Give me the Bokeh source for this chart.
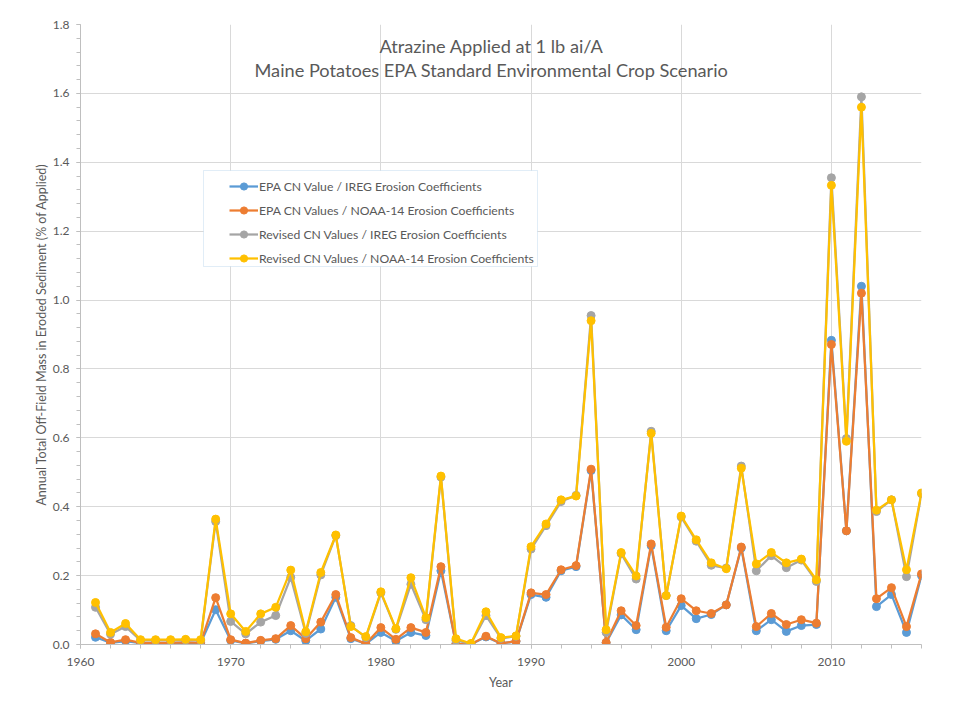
from bokeh.plotting import figure
from bokeh.models import (SingleIntervalTicker, PrintfTickFormatter, Label, Legend, LegendItem,
                          Range1d, BoxAnnotation)
from bokeh.embed import file_html
from bokeh.resources import INLINE

years = [1961, 1962, 1963, 1964, 1965, 1966, 1967, 1968, 1969, 1970,
         1971, 1972, 1973, 1974, 1975, 1976, 1977, 1978, 1979, 1980,
         1981, 1982, 1983, 1984, 1985, 1986, 1987, 1988, 1989, 1990,
         1991, 1992, 1993, 1994, 1995, 1996, 1997, 1998, 1999, 2000,
         2001, 2002, 2003, 2004, 2005, 2006, 2007, 2008, 2009, 2010,
         2011, 2012, 2013, 2014, 2015, 2016]

epa_ireg = [0.021, 0.005, 0.010, 0.004, 0.004, 0.004, 0.005, 0.004, 0.101, 0.012,
            0.003, 0.010, 0.015, 0.040, 0.011, 0.045, 0.137, 0.017, 0.002, 0.035,
            0.010, 0.035, 0.026, 0.214, 0.002, 0.001, 0.022, 0.003, 0.009, 0.145,
            0.137, 0.214, 0.226, 0.505, 0.005, 0.086, 0.043, 0.287, 0.040, 0.113,
            0.075, 0.087, 0.115, 0.280, 0.040, 0.072, 0.038, 0.055, 0.058, 0.883,
            0.330, 1.040, 0.110, 0.145, 0.035, 0.200]

epa_noaa = [0.031, 0.006, 0.014, 0.005, 0.005, 0.005, 0.006, 0.005, 0.136, 0.014,
            0.004, 0.012, 0.017, 0.055, 0.017, 0.065, 0.145, 0.020, 0.002, 0.049,
            0.015, 0.049, 0.035, 0.226, 0.002, 0.001, 0.024, 0.003, 0.010, 0.150,
            0.145, 0.217, 0.229, 0.509, 0.006, 0.098, 0.055, 0.292, 0.050, 0.133,
            0.098, 0.090, 0.115, 0.283, 0.052, 0.090, 0.058, 0.072, 0.062, 0.871,
            0.330, 1.020, 0.133, 0.165, 0.052, 0.205]

rev_ireg = [0.108, 0.030, 0.052, 0.012, 0.012, 0.012, 0.013, 0.012, 0.357, 0.067,
            0.031, 0.065, 0.084, 0.195, 0.032, 0.202, 0.316, 0.055, 0.020, 0.150,
            0.044, 0.175, 0.072, 0.486, 0.012, 0.002, 0.084, 0.018, 0.024, 0.277,
            0.345, 0.415, 0.433, 0.955, 0.035, 0.264, 0.190, 0.619, 0.142, 0.370,
            0.300, 0.230, 0.222, 0.518, 0.214, 0.258, 0.223, 0.245, 0.183, 1.355,
            0.598, 1.590, 0.386, 0.420, 0.197, 0.438]

rev_noaa = [0.122, 0.035, 0.061, 0.014, 0.014, 0.014, 0.015, 0.014, 0.364, 0.089,
            0.038, 0.089, 0.108, 0.216, 0.037, 0.209, 0.318, 0.052, 0.023, 0.153,
            0.046, 0.194, 0.078, 0.489, 0.017, 0.003, 0.095, 0.020, 0.025, 0.284,
            0.350, 0.420, 0.431, 0.940, 0.043, 0.267, 0.199, 0.613, 0.142, 0.373,
            0.304, 0.237, 0.220, 0.512, 0.234, 0.267, 0.237, 0.248, 0.188, 1.333,
            0.590, 1.560, 0.390, 0.420, 0.217, 0.440]

series_names = ["EPA CN Value / IREG Erosion Coefficients",
                "EPA CN Values / NOAA-14 Erosion Coefficients",
                "Revised CN Values / IREG Erosion Coefficients",
                "Revised CN Values / NOAA-14 Erosion Coefficients"]
series_colors = ["#5B9BD5", "#ED7D31", "#A5A5A5", "#FFC000"]
series_values = [epa_ireg, epa_noaa, rev_ireg, rev_noaa]

title_lines = ["Atrazine Applied at 1 lb ai/A",
               "Maine Potatoes EPA Standard Environmental Crop Scenario"]

FONT = "Lato"
TXT = "#595959"

p = figure(width=950, height=700, output_backend="svg", toolbar_location=None,
           x_range=Range1d(1960, 2016), y_range=Range1d(0, 1.8),
           min_border_left=80, min_border_right=29, min_border_top=24, min_border_bottom=56)
p.outline_line_color = None
p.background_fill_color = "white"
p.border_fill_color = "white"

# axes
p.xaxis.ticker = SingleIntervalTicker(interval=10, num_minor_ticks=5)
p.yaxis.ticker = SingleIntervalTicker(interval=0.2, num_minor_ticks=5)
p.yaxis.formatter = PrintfTickFormatter(format="%.1f")
for ax in (p.xaxis, p.yaxis):
    ax.axis_line_color = "#BFBFBF"
    ax.major_tick_line_color = "#BFBFBF"
    ax.minor_tick_line_color = "#BFBFBF"
    ax.major_tick_out = 4
    ax.major_tick_in = 0
    ax.minor_tick_out = 4
    ax.minor_tick_in = 0
    ax.major_label_text_font = FONT
    ax.major_label_text_font_size = "12px"
    ax.major_label_text_color = TXT
    ax.axis_label_text_font = FONT
    ax.axis_label_text_font_size = "12.5px"
    ax.axis_label_text_color = TXT
    ax.axis_label_text_font_style = "normal"
p.xaxis.axis_label = "Year"
p.yaxis.axis_label = "Annual Total Off-Field Mass in Eroded Sediment (% of Applied)"
p.xaxis.major_label_standoff = 9
p.yaxis.major_label_standoff = 7
p.xaxis.axis_label_standoff = 6
p.yaxis.axis_label_standoff = 1

p.xgrid.ticker = p.xaxis.ticker
p.ygrid.ticker = p.yaxis.ticker
p.xgrid.grid_line_color = "#D9D9D9"
p.ygrid.grid_line_color = "#D9D9D9"

items = []
for name, color, vals in zip(series_names, series_colors, series_values):
    r1 = p.line(years, vals, line_color=color, line_width=2.25)
    r2 = p.scatter(years, vals, size=8, fill_color=color, line_color=color)
    items.append(LegendItem(label=name, renderers=[r1, r2]))

# outer chart-area border (only its top and left edges fall inside the window)
p.add_layout(BoxAnnotation(left=-73, right=1000, bottom=-200, top=636,
                           left_units="screen", right_units="screen",
                           bottom_units="screen", top_units="screen",
                           fill_alpha=0, line_color="#D9D9D9", line_width=1.5))

# legend frame (Excel style box wider than its entries)
p.add_layout(BoxAnnotation(left=123, right=457, bottom=378, top=474,
                           left_units="screen", right_units="screen",
                           bottom_units="screen", top_units="screen",
                           fill_color="white", fill_alpha=1,
                           line_color="#9DC3E6", line_width=1))

legend = Legend(items=items, location=(149, 377), orientation="vertical")
legend.label_text_font = FONT
legend.label_text_font_size = "12.2px"
legend.label_text_color = TXT
legend.border_line_color = None
legend.background_fill_alpha = 0
legend.glyph_width = 29
legend.glyph_height = 18
legend.label_height = 18
legend.spacing = 6
legend.padding = 4
legend.margin = 0
legend.label_standoff = 1
p.add_layout(legend, "center")

for i, t in enumerate(title_lines):
    p.add_layout(Label(x=411, y=599 - 24 * i, x_units="screen", y_units="screen", text=t,
                       text_align="center", text_baseline="middle", text_font=FONT,
                       text_font_size="18.2px", text_color=TXT))

open("out.html", "w").write(file_html(p, INLINE))
